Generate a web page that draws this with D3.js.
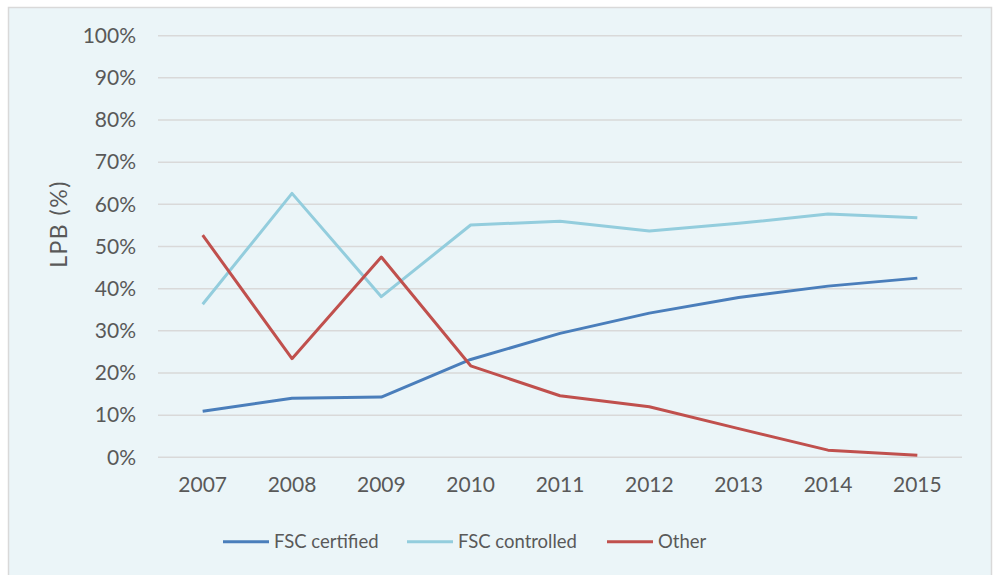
<!DOCTYPE html>
<html>
<head>
<meta charset="utf-8">
<script src="https://cdn.jsdelivr.net/npm/d3@7"></script>
<style>
  body { margin: 0; background: #ffffff; }
  svg { display: block; }
</style>
</head>
<body>
<svg id="chart"></svg>
<script>
// Data
var years = ["2007", "2008", "2009", "2010", "2011", "2012", "2013", "2014", "2015"];
var fscCertified = [10.9, 14.0, 14.3, 23.2, 29.4, 34.2, 37.9, 40.6, 42.5];
var fscControlled = [36.3, 62.6, 38.1, 55.1, 56.0, 53.7, 55.5, 57.7, 56.8];
var other = [52.7, 23.4, 47.5, 21.7, 14.6, 12.0, 6.8, 1.7, 0.5];
var seriesNames = ["FSC certified", "FSC controlled", "Other"];
var yTicks = [0, 10, 20, 30, 40, 50, 60, 70, 80, 90, 100];

var width = 997;
var height = 575;
var font = "Lato, 'Open Sans', sans-serif";
var textColor = "#595959";
var colors = ["#4a7ebb", "#93cddd", "#c0504d"];

var svg = d3.select("#chart")
  .attr("width", width)
  .attr("height", height);

// Chart area background + border
svg.append("rect")
  .attr("x", 8.5)
  .attr("y", 7.5)
  .attr("width", 983)
  .attr("height", 575)
  .attr("fill", "#ebf5f8")
  .attr("stroke", "#d9d9d9")
  .attr("stroke-width", 1.5);

var plotLeft = 158, plotRight = 962, plotTop = 35.7, plotBottom = 457.3;

// Scales
var xScale = d3.scaleBand()
  .domain(years)
  .range([plotLeft, plotRight]);

var yScale = d3.scaleLinear()
  .domain([0, 100])
  .range([plotBottom, plotTop]);

// Gridlines
svg.append("g")
  .selectAll("line")
  .data(yTicks)
  .enter()
  .append("line")
  .attr("x1", plotLeft)
  .attr("x2", plotRight)
  .attr("y1", function(d) { return yScale(d); })
  .attr("y2", function(d) { return yScale(d); })
  .attr("stroke", "#d9d9d9")
  .attr("stroke-width", 1.5);

// Y axis (labels only)
var yAxis = svg.append("g")
  .attr("transform", "translate(" + plotLeft + ",0)")
  .call(d3.axisLeft(yScale).tickValues(yTicks).tickSize(0).tickPadding(22)
    .tickFormat(function(d) { return d + "%"; }));
yAxis.select(".domain").remove();
yAxis.selectAll("text")
  .style("font-family", font)
  .style("font-size", "21px")
  .attr("fill", textColor);

// X axis (labels only)
var xAxis = svg.append("g")
  .attr("transform", "translate(0," + plotBottom + ")")
  .call(d3.axisBottom(xScale).tickSize(0).tickPadding(20));
xAxis.select(".domain").remove();
xAxis.selectAll("text")
  .style("font-family", font)
  .style("font-size", "21px")
  .attr("fill", textColor);

// Y axis title
svg.append("text")
  .attr("transform", "translate(59,224) rotate(-90)")
  .attr("dy", "0.35em")
  .style("text-anchor", "middle")
  .style("font-family", font)
  .style("font-size", "23px")
  .style("letter-spacing", "1.5px")
  .attr("fill", textColor)
  .text("LPB (%)");

// Lines
var allSeries = [fscCertified, fscControlled, other];
var line = d3.line()
  .x(function(d, i) { return xScale(years[i]) + xScale.bandwidth() / 2; })
  .y(function(d) { return yScale(d); });

svg.append("g")
  .selectAll("path")
  .data(allSeries)
  .enter()
  .append("path")
  .attr("fill", "none")
  .attr("stroke", function(d, i) { return colors[i]; })
  .attr("stroke-width", 3)
  .attr("stroke-linejoin", "round")
  .attr("d", line);

// Legend
var legendX = [223, 407, 607];
var legend = svg.append("g")
  .selectAll("g")
  .data(seriesNames)
  .enter()
  .append("g")
  .attr("transform", function(d, i) { return "translate(" + legendX[i] + ",541.7)"; });

legend.append("line")
  .attr("x1", 0)
  .attr("x2", 46)
  .attr("stroke", function(d, i) { return colors[i]; })
  .attr("stroke-width", 3);

legend.append("text")
  .attr("x", 51)
  .attr("dy", "0.35em")
  .style("font-family", font)
  .style("font-size", "18.5px")
  .attr("fill", textColor)
  .text(function(d) { return d; });
</script>
</body>
</html>
